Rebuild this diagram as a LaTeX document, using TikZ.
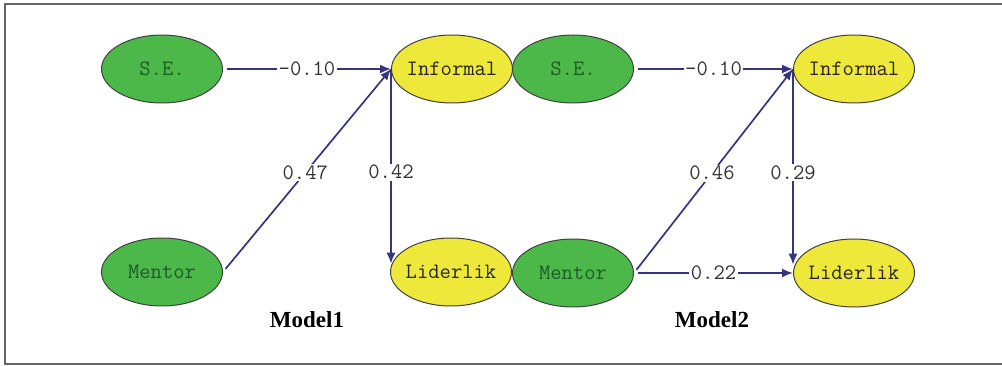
\documentclass[tikz,border=0pt]{standalone}
\usepackage{fontspec}
\newfontfamily\modelfont{Liberation Serif}
\usetikzlibrary{arrows.meta,shapes.geometric}
\definecolor{gfill}{HTML}{4DB84A}
\definecolor{yfill}{HTML}{EEE83A}
\definecolor{edgec}{HTML}{34357E}
\definecolor{gtext}{HTML}{1C5A28}
\definecolor{framec}{HTML}{666666}
\newcommand\nb[1]{\makebox[0pt]{#1}}
\tikzset{
  varg/.style={ellipse, draw=black!75, line width=1pt, fill=gfill, minimum width=121pt, minimum height=68pt, inner sep=0pt, font=\ttfamily\fontsize{22}{22}\selectfont, text=gtext},
  vary/.style={ellipse, draw=black!75, line width=1pt, fill=yfill, minimum width=121pt, minimum height=68pt, inner sep=0pt, font=\ttfamily\fontsize{22}{22}\selectfont, text=black!85},
  pathedge/.style={draw=edgec, line width=1.7pt, -{Latex[length=11pt,width=9pt]}},
  coef/.style={fill=white, inner sep=1.5pt, font=\ttfamily\fontsize{22}{22}\selectfont, text=black!80},
  modellabel/.style={font=\modelfont\bfseries\fontsize{23}{23}\selectfont}
}
\begin{document}
\begin{tikzpicture}[x=1pt,y=-1pt]
\useasboundingbox (0,0) rectangle (1002,366);
\draw[framec, line width=2pt] (1002,4) -- (5,4) -- (5,364) -- (1002,364);
% Model 1
\node[varg] (se1) at (162,69) {\nb{S.E.}};
\node[vary] (inf1) at (452,69) {\nb{Informal}};
\node[varg] (men1) at (162,272) {\nb{Mentor}};
\node[vary] (lid1) at (451,272) {\nb{Liderlik}};
\draw[pathedge, shorten <=4pt] (se1.east) -- node[coef, pos=0.5] {-0.10} (inf1.west);
\draw[pathedge, shorten <=4pt] (men1.east) -- node[coef, pos=0.49] {0.47} (inf1.west);
\draw[pathedge] (inf1.west) -- node[coef, pos=0.53] {0.42} (inf1.west |- lid1.172);
\node[modellabel] (m1) at (307,320) {Model1};
% Model 2
\node[varg] (se2) at (573,69) {\nb{S.E.}};
\node[vary] (inf2) at (854,69) {\nb{Informal}};
\node[varg] (men2) at (573,273) {\nb{Mentor}};
\node[vary] (lid2) at (854,273) {\nb{Liderlik}};
\draw[pathedge, shorten <=4pt] (se2.east) -- node[coef, pos=0.5] {-0.10} (inf2.west);
\draw[pathedge, shorten <=4pt] (men2.east) -- node[coef, pos=0.49] {0.46} (inf2.west);
\draw[pathedge] (inf2.west) -- node[coef, pos=0.53] {0.29} (inf2.west |- lid2.172);
\draw[pathedge, shorten <=4pt] (men2.east) -- node[coef, pos=0.5] {0.22} (lid2.west);
\node[modellabel] (m2) at (712,320) {Model2};
\end{tikzpicture}
\end{document}
